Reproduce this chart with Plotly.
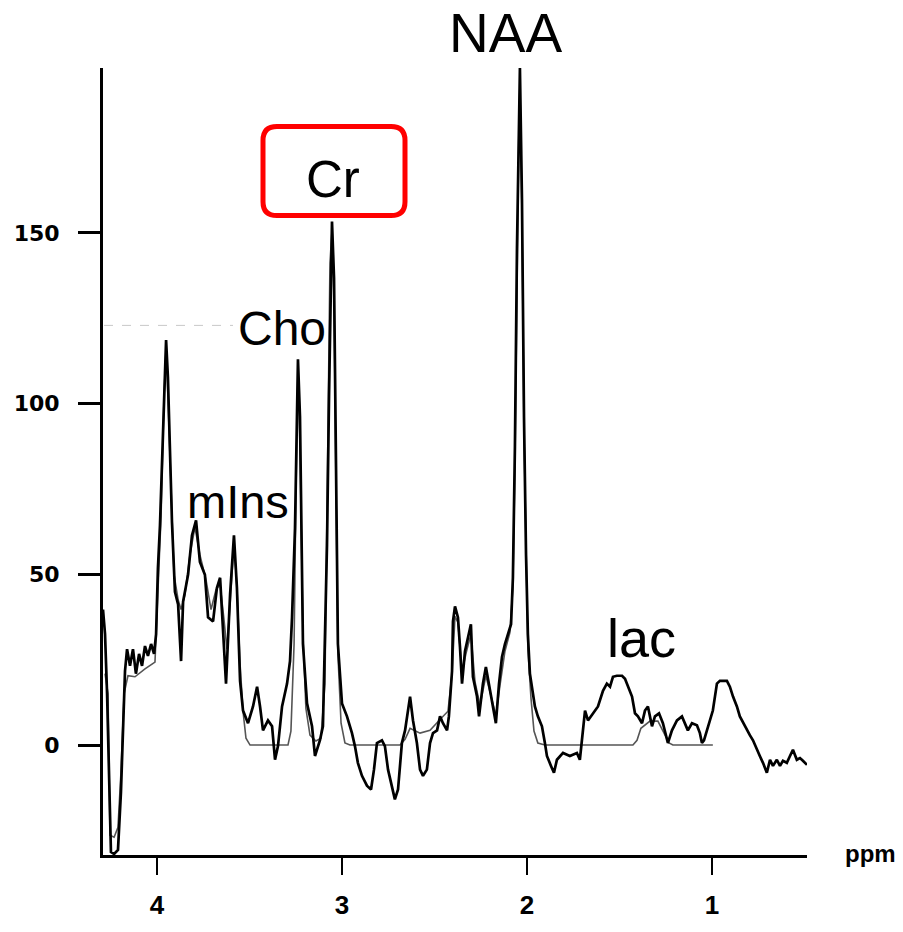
import plotly.graph_objects as go

# ---- data (chemical shift in ppm, signal intensity) ----
raw_ppm = [4.292, 4.281, 4.270, 4.259, 4.249, 4.232, 4.211, 4.195, 4.184, 4.173,
           4.162, 4.146, 4.130, 4.114, 4.097, 4.081, 4.065, 4.049, 4.032, 4.016,
           4.005, 3.995, 3.984, 3.973, 3.962, 3.951, 3.941, 3.930, 3.919, 3.903,
           3.886, 3.870, 3.859, 3.832, 3.811, 3.789, 3.768, 3.741, 3.724, 3.697,
           3.676, 3.659, 3.643, 3.627, 3.605, 3.584, 3.568, 3.551, 3.535, 3.508,
           3.481, 3.459, 3.443, 3.427, 3.400, 3.378, 3.362, 3.346, 3.324, 3.297,
           3.281, 3.270, 3.254, 3.243, 3.238, 3.227, 3.211, 3.189, 3.162, 3.146,
           3.119, 3.103, 3.092, 3.081, 3.070, 3.059, 3.054, 3.043, 3.032, 3.022,
           3.000, 2.973, 2.946, 2.930, 2.914, 2.892, 2.865, 2.843, 2.827, 2.811,
           2.784, 2.768, 2.751, 2.730, 2.714, 2.697, 2.676, 2.659, 2.632, 2.616,
           2.595, 2.578, 2.562, 2.541, 2.524, 2.508, 2.486, 2.470, 2.454, 2.432,
           2.422, 2.405, 2.400, 2.389, 2.373, 2.362, 2.351, 2.335, 2.319, 2.303,
           2.292, 2.270, 2.259, 2.238, 2.222, 2.205, 2.184, 2.168, 2.151, 2.135,
           2.119, 2.103, 2.086, 2.076, 2.065, 2.054, 2.043, 2.038, 2.027, 2.016,
           2.005, 1.995, 1.984, 1.973, 1.957, 1.941, 1.919, 1.903, 1.892, 1.870,
           1.854, 1.838, 1.805, 1.768, 1.730, 1.714, 1.697, 1.686, 1.670, 1.643,
           1.616, 1.589, 1.568, 1.551, 1.535, 1.514, 1.486, 1.470, 1.454, 1.432,
           1.416, 1.400, 1.378, 1.362, 1.346, 1.324, 1.308, 1.286, 1.265, 1.249,
           1.238, 1.216, 1.189, 1.162, 1.146, 1.130, 1.108, 1.081, 1.065, 1.054,
           1.043, 1.027, 1.016, 0.995, 0.973, 0.957, 0.919, 0.903, 0.886, 0.865,
           0.849, 0.822, 0.795, 0.778, 0.757, 0.741, 0.724, 0.703, 0.686, 0.670,
           0.649, 0.632, 0.616, 0.595, 0.578, 0.562, 0.541, 0.524, 0.508, 0.486]
raw_int = [39.7, 32.5, 15.1, -13.9, -31.3, -31.9, -30.7, -13.9, 3.5, 21.7,
           28.1, 23.2, 28.1, 20.9, 26.7, 23.2, 29.0, 26.1, 29.6, 26.7,
           32.5, 51.9, 64.3, 81.7, 102.0, 118.6, 107.8, 87.5, 65.2, 44.9,
           41.2, 24.6, 42.0, 49.9, 61.4, 65.8, 53.6, 49.9, 37.4, 36.2,
           46.1, 49.0, 34.5, 18.0, 44.1, 61.4, 46.1, 18.8, 10.1, 6.4,
           11.3, 17.1, 11.3, 4.3, 7.2, 5.5, -4.3, -0.3, 11.3, 18.0,
           24.6, 37.4, 63.5, 96.2, 113.0, 96.2, 29.6, 12.2, 5.5, -3.2,
           1.4, 5.5, 34.5, 58.6, 102.0, 145.5, 153.3, 136.8, 87.5, 29.6,
           12.2, 8.4, 3.5, -0.3, -5.2, -9.0, -11.9, -13.0, -7.2, 0.6,
           1.4, -0.3, -7.2, -11.9, -15.9, -13.0, 0.6, 4.3, 14.2, 7.2,
           0.6, -7.2, -9.0, -7.2, 0.6, 3.5, 4.3, 8.4, 6.4, 4.3,
           8.4, 21.7, 36.2, 40.6, 37.4, 28.7, 18.0, 27.5, 31.6, 35.4,
           20.0, 14.2, 8.4, 18.0, 22.9, 18.0, 12.2, 6.4, 18.0, 25.8,
           29.6, 32.5, 35.4, 49.0, 87.5, 145.5, 189.0, 198.3, 160.0, 96.2,
           55.7, 32.5, 20.9, 16.5, 11.3, 8.4, 5.5, 0.6, -3.2, -6.1,
           -8.1, -4.3, -2.3, -3.2, -2.3, -4.3, 3.5, 10.1, 7.2, 9.3,
           11.3, 15.9, 18.0, 17.1, 20.0, 20.3, 20.3, 19.4, 17.1, 14.2,
           9.3, 8.4, 6.4, 10.1, 11.3, 5.5, 8.4, 9.3, 6.4, 2.6,
           0.6, 4.3, 7.2, 8.4, 6.4, 4.3, 6.4, 5.8, 3.5, 0.6,
           1.4, 4.3, 6.4, 10.1, 18.0, 18.8, 18.8, 17.1, 14.2, 11.3,
           8.4, 5.5, 2.9, 1.4, -1.4, -3.2, -5.2, -8.1, -4.3, -6.1,
           -4.3, -6.1, -4.6, -5.2, -3.2, -1.4, -4.3, -3.8, -4.6, -5.8]

fit_ppm = [4.281, 4.265, 4.254, 4.232, 4.211, 4.195, 4.178, 4.157, 4.119, 4.065,
           4.011, 3.995, 3.978, 3.962, 3.951, 3.941, 3.924, 3.908, 3.886, 3.870,
           3.849, 3.822, 3.795, 3.768, 3.735, 3.708, 3.681, 3.659, 3.638, 3.622,
           3.605, 3.584, 3.568, 3.551, 3.535, 3.519, 3.497, 3.292, 3.276, 3.259,
           3.249, 3.238, 3.227, 3.211, 3.195, 3.173, 3.141, 3.114, 3.092, 3.076,
           3.065, 3.054, 3.043, 3.032, 3.022, 3.005, 2.984, 2.957, 2.686, 2.659,
           2.632, 2.578, 2.524, 2.470, 2.427, 2.405, 2.389, 2.373, 2.351, 2.330,
           2.303, 2.281, 2.254, 2.222, 2.200, 2.168, 2.146, 2.119, 2.092, 2.076,
           2.065, 2.054, 2.043, 2.038, 2.027, 2.016, 2.005, 1.995, 1.978, 1.962,
           1.941, 1.903, 1.427, 1.405, 1.384, 1.335, 1.292, 1.259, 1.232, 1.211,
           0.995]
fit_int = [20.9, 15.1, -26.4, -27.0, -24.1, -8.1, 15.1, 20.3, 20.0, 22.3,
           24.3, 44.1, 67.2, 102.0, 116.5, 102.0, 73.0, 49.9, 42.6, 39.7,
           44.1, 55.7, 63.8, 55.7, 48.4, 39.7, 45.5, 47.0, 36.8, 28.1,
           41.2, 59.1, 46.4, 23.8, 9.9, 2.0, 0.0, 0.0, 4.1, 29.6,
           73.0, 110.1, 87.5, 32.5, 10.7, 2.9, 1.2, 2.0, 18.0, 87.5,
           141.2, 150.7, 131.0, 73.0, 26.7, 6.4, 0.6, 0.0, 0.0, 1.7,
           4.9, 3.5, 4.3, 7.5, 9.9, 20.9, 37.7, 35.9, 21.4, 26.7,
           32.5, 18.6, 11.6, 20.3, 15.7, 8.7, 17.4, 27.5, 33.0, 46.4,
           81.7, 139.7, 183.2, 193.3, 155.7, 91.9, 51.3, 28.1, 13.6, 4.1,
           0.6, 0.0, 0.0, 1.4, 4.9, 7.0, 7.0, 3.5, 0.6, 0.0,
           0.0]

x_ticks = [4, 3, 2, 1]
y_ticks = [0, 50, 100, 150]
peak_labels = ["NAA", "Cr", "Cho", "mIns", "lac"]

# ---- layout geometry (pixels) ----
W, H = 903, 932
L, R, T, B = 103, 807, 68, 863


def px(x):
    return (x - L) / (R - L)


def py(y):
    return (B - y) / (B - T)


fig = go.Figure()
fig.add_trace(go.Scatter(x=fit_ppm, y=fit_int, mode="lines",
                         line=dict(color="#555555", width=1.6),
                         showlegend=False, hoverinfo="skip"))
fig.add_trace(go.Scatter(x=raw_ppm, y=raw_int, mode="lines",
                         line=dict(color="black", width=2.7),
                         showlegend=False))

LABEL_FONT = "Liberation Sans"
# label: (centre x px, cap-top y px, font size)
label_pos = {"NAA": (505, 11, 55), "Cr": (333, 161, 51), "Cho": (282, 312, 48),
             "mIns": (238, 487, 47), "lac": (641, 623, 54)}
for name in peak_labels:
    cx, cap_top, fs = label_pos[name]
    box_top = cap_top - 0.19 * fs - 1
    fig.add_annotation(x=px(cx), y=py(box_top), xref="paper", yref="paper",
                       text=name, showarrow=False, xanchor="center",
                       yanchor="top",
                       font=dict(family=LABEL_FONT, size=fs, color="black"))

fig.add_annotation(x=px(870), y=py(861), xref="paper", yref="paper",
                   text="ppm", showarrow=False, xanchor="center",
                   yanchor="middle",
                   font=dict(family="Liberation Sans", size=24, color="black",
                             weight="bold"))

# rounded red box around "Cr"
x0, y0, x1, y1, r = 263, 127, 405, 217, 14
path = (f"M {px(x0 + r)},{py(y0)} L {px(x1 - r)},{py(y0)} "
        f"Q {px(x1)},{py(y0)} {px(x1)},{py(y0 + r)} "
        f"L {px(x1)},{py(y1 - r)} Q {px(x1)},{py(y1)} {px(x1 - r)},{py(y1)} "
        f"L {px(x0 + r)},{py(y1)} Q {px(x0)},{py(y1)} {px(x0)},{py(y1 - r)} "
        f"L {px(x0)},{py(y0 + r)} Q {px(x0)},{py(y0)} {px(x0 + r)},{py(y0)} Z")
fig.add_shape(type="path", path=path, xref="paper", yref="paper",
              line=dict(color="#ff0000", width=5))

# faint dashed pasting edge under "Cho"
fig.add_shape(type="line", xref="paper", yref="paper",
              x0=px(104), x1=px(233), y0=py(328), y1=py(328),
              line=dict(color="#c8c8c8", width=1, dash="dash"))

fig.update_layout(
    width=W, height=H,
    margin=dict(l=L, r=W - R, t=T, b=H - B, pad=0),
    paper_bgcolor="white", plot_bgcolor="white",
    xaxis=dict(range=[4.292, 0.486], tickvals=x_ticks,
               ticktext=[str(v) for v in x_ticks],
               showgrid=False, zeroline=False, showline=True,
               linecolor="black", linewidth=3, ticks="outside",
               ticklen=17, tickwidth=2, tickcolor="black",
               ticklabelstandoff=8,
               tickfont=dict(family="Liberation Sans", size=26,
                             color="black", weight="bold")),
    yaxis=dict(range=[-32.2, 198.3], tickvals=y_ticks,
               showgrid=False, zeroline=False, showline=True,
               linecolor="black", linewidth=3, ticks="outside",
               ticklen=22, tickwidth=3, tickcolor="black",
               ticklabelstandoff=14,
               tickfont=dict(family="DejaVu Sans", size=22,
                             color="black", weight="bold")),
)

fig.write_html("out.html")
